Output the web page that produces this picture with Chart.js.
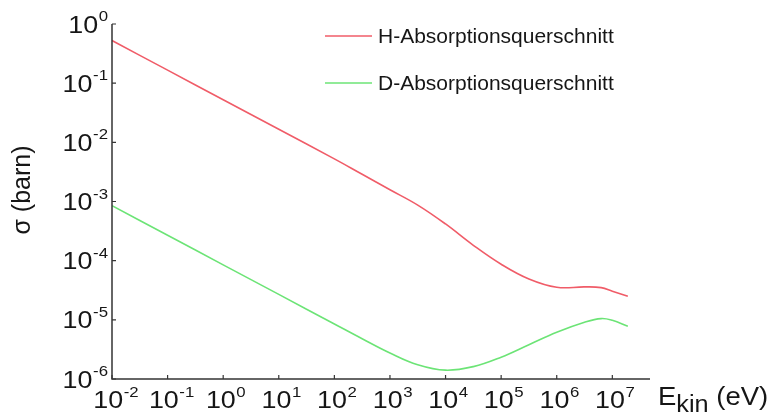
<!DOCTYPE html>
<html>
<head>
<meta charset="utf-8">
<script src="https://cdn.jsdelivr.net/npm/chart.js@4"></script>
<style>
  html, body { margin: 0; padding: 0; background: #ffffff; }
  #wrap { width: 771px; height: 417px; position: relative; }
</style>
</head>
<body>
<div id="wrap"><canvas id="c"></canvas></div>
<script>
// Kinetic energy grid (eV)
const energies = [0.01, 0.1, 1, 10, 100, 316, 1000, 3160, 1e4, 3.16e4, 1e5, 3.16e5, 1e6, 3.16e6, 6.3e6, 1e7, 1.9e7];
// Absorption cross sections (barn)
const hSigma = [0.525, 0.166, 0.0525, 0.0166, 0.00525, 0.00288, 0.00158, 8.7e-4, 4.17e-4, 1.82e-4, 8.7e-5, 4.9e-5, 3.55e-5, 3.6e-5, 3.5e-5, 3.05e-5, 2.5e-5];
const dSigma = [8.5e-4, 2.69e-4, 8.5e-5, 2.69e-5, 8.5e-6, 4.79e-6, 2.75e-6, 1.74e-6, 1.41e-6, 1.62e-6, 2.34e-6, 3.8e-6, 6.17e-6, 9.1e-6, 1.05e-5, 9.8e-6, 7.8e-6];
// Series names and decade tick exponents
const seriesLabels = ['H-Absorptionsquerschnitt', 'D-Absorptionsquerschnitt'];
const xTickExps = [-2, -1, 0, 1, 2, 3, 4, 5, 6, 7];
const yTickExps = [0, -1, -2, -3, -4, -5, -6];
const yAxisTitle = 'σ (barn)';
const xAxisTitle = ['E', 'kin', ' (eV)'];

const seriesColors = ['rgb(240,92,104)', 'rgb(108,228,118)'];
const FONT = '"Liberation Sans", Arial, sans-serif';
const TEXT = '#161616';
const AXIS = '#353535';

function toPoints(ys) { return energies.map((e, i) => ({ x: e, y: ys[i] })); }

function powerWidths(ctx, exp, baseSize, expSize) {
  ctx.font = baseSize + 'px ' + FONT;
  const bw = ctx.measureText('10').width;
  ctx.font = expSize + 'px ' + FONT;
  const ew = ctx.measureText(String(exp)).width;
  return { bw, ew };
}
// "10" with a raised exponent, horizontally stretched by sx
function drawPower(ctx, exp, xLeft, baseLine, expLine, baseSize, expSize, sx) {
  const { bw } = powerWidths(ctx, exp, baseSize, expSize);
  ctx.save();
  ctx.translate(xLeft, 0);
  ctx.scale(sx, 1);
  ctx.fillStyle = TEXT;
  ctx.textAlign = 'left';
  ctx.textBaseline = 'alphabetic';
  ctx.font = baseSize + 'px ' + FONT;
  ctx.fillText('10', 0, baseLine);
  ctx.font = expSize + 'px ' + FONT;
  ctx.fillText(String(exp), bw + 0.5, expLine);
  ctx.restore();
}

const axesPlugin = {
  id: 'axesDecor',
  afterDraw(chart) {
    const { ctx, chartArea: a, scales } = chart;
    const xs = scales.x, ys = scales.y;
    ctx.save();
    // axis lines (left and bottom)
    ctx.strokeStyle = AXIS;
    ctx.lineWidth = 1.5;
    ctx.beginPath();
    ctx.moveTo(a.left, a.top);
    ctx.lineTo(a.left, a.bottom);
    ctx.lineTo(a.right, a.bottom);
    ctx.stroke();
    // inward tick marks
    ctx.lineWidth = 1.2;
    ctx.beginPath();
    yTickExps.forEach(e => {
      const y = ys.getPixelForValue(Math.pow(10, e));
      ctx.moveTo(a.left, y); ctx.lineTo(a.left + 4, y);
    });
    xTickExps.forEach(e => {
      const x = xs.getPixelForValue(Math.pow(10, e));
      ctx.moveTo(x, a.bottom); ctx.lineTo(x, a.bottom - 4);
    });
    ctx.stroke();

    const SX = 1.12, BS = 24, ES = 15;
    // y tick labels, right aligned
    yTickExps.forEach(e => {
      const y = ys.getPixelForValue(Math.pow(10, e));
      const { bw, ew } = powerWidths(ctx, e, BS, ES);
      const total = (bw + 0.5 + ew) * SX;
      drawPower(ctx, e, a.left - 4 - total, y + 8.5, y - 3, BS, ES, SX);
    });
    // x tick labels
    xTickExps.forEach(e => {
      const x = xs.getPixelForValue(Math.pow(10, e));
      const { bw, ew } = powerWidths(ctx, e, BS, ES);
      const left = x - (bw * SX) / 2 - ew * SX * 0.25;
      drawPower(ctx, e, left, a.bottom + 29, a.bottom + 18, BS, ES, SX);
    });

    // y axis title
    ctx.save();
    ctx.translate(23, 190);
    ctx.rotate(-Math.PI / 2);
    ctx.fillStyle = TEXT;
    ctx.font = '25px ' + FONT;
    ctx.textAlign = 'center';
    ctx.textBaseline = 'middle';
    ctx.fillText(yAxisTitle, 0, 0);
    ctx.restore();

    // x axis title with subscript
    ctx.save();
    ctx.translate(658, 0);
    ctx.scale(1.1, 1);
    ctx.fillStyle = TEXT;
    ctx.textAlign = 'left';
    ctx.textBaseline = 'alphabetic';
    let tx = 0;
    ctx.font = '25px ' + FONT;
    ctx.fillText(xAxisTitle[0], tx, 405);
    tx += ctx.measureText(xAxisTitle[0]).width;
    ctx.font = '23px ' + FONT;
    ctx.fillText(xAxisTitle[1], tx, 412);
    tx += ctx.measureText(xAxisTitle[1]).width;
    ctx.font = '25px ' + FONT;
    ctx.fillText(xAxisTitle[2], tx, 405);
    ctx.restore();

    // legend
    const legendRows = [36, 83];
    chart.data.datasets.forEach((ds, i) => {
      const y = legendRows[i];
      ctx.strokeStyle = ds.borderColor;
      ctx.lineWidth = 1.6;
      ctx.beginPath();
      ctx.moveTo(325, y); ctx.lineTo(372, y);
      ctx.stroke();
      ctx.fillStyle = TEXT;
      ctx.font = '21px ' + FONT;
      ctx.textBaseline = 'middle';
      ctx.textAlign = 'left';
      ctx.fillText(ds.label, 378, y + 1);
    });
    ctx.restore();
  }
};

new Chart(document.getElementById('c'), {
  type: 'line',
  data: {
    datasets: [
      { label: seriesLabels[0], data: toPoints(hSigma), borderColor: seriesColors[0], borderWidth: 1.6, pointRadius: 0, tension: 0.4, fill: false },
      { label: seriesLabels[1], data: toPoints(dSigma), borderColor: seriesColors[1], borderWidth: 1.6, pointRadius: 0, tension: 0.4, fill: false }
    ]
  },
  options: {
    responsive: true,
    maintainAspectRatio: false,
    animation: false,
    layout: { padding: { left: 112, right: 121, top: 24, bottom: 38 } },
    plugins: { legend: { display: false }, tooltip: { enabled: false } },
    scales: {
      x: {
        type: 'logarithmic', min: 0.01, max: 4.76e7,
        grid: { display: false, drawTicks: false },
        border: { display: false },
        ticks: { display: false }
      },
      y: {
        type: 'logarithmic', min: 1e-6, max: 1,
        grid: { display: false, drawTicks: false },
        border: { display: false },
        ticks: { display: false }
      }
    }
  },
  plugins: [axesPlugin]
});
</script>
</body>
</html>
